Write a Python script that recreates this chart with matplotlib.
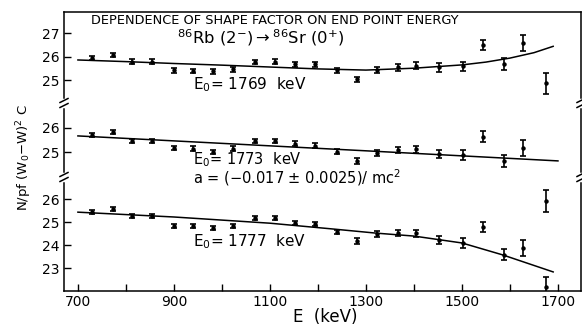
import matplotlib
matplotlib.use('Agg')
import matplotlib.pyplot as plt
from matplotlib.lines import Line2D

# beta energies (keV) of the measured points
energy = [729, 773, 812, 854, 900, 940, 981, 1023, 1069, 1110, 1152, 1194,
          1240, 1281, 1323, 1367, 1404, 1452, 1502, 1544, 1588, 1627, 1675]
err = [0.1, 0.1, 0.1, 0.1, 0.1, 0.1, 0.1, 0.1, 0.1, 0.1, 0.1, 0.1,
       0.1, 0.12, 0.13, 0.14, 0.15, 0.18, 0.2, 0.22, 0.24, 0.33, 0.45]

# shape factor for the three end point energies
sf_1769 = [25.96, 26.08, 25.8, 25.8, 25.43, 25.4, 25.38, 25.47, 25.78, 25.8, 25.69, 25.68,
           25.43, 25.04, 25.43, 25.55, 25.62, 25.55, 25.6, 26.5, 25.7, 26.6, 24.87]
sf_1773 = [25.71, 25.83, 25.46, 25.46, 25.17, 25.13, 25.0, 25.13, 25.46, 25.46, 25.35, 25.26,
           25.01, 24.64, 24.95, 25.08, 25.12, 24.92, 24.88, 25.64, 24.63, 25.18, 22.96]
sf_1777 = [25.43, 25.57, 25.26, 25.26, 24.83, 24.83, 24.74, 24.83, 25.17, 25.17, 24.96, 24.91,
           24.57, 24.17, 24.48, 24.52, 24.52, 24.22, 24.09, 24.78, 23.57, 23.87, 22.17]

# fitted curves
fit_e_1769 = [700, 800, 900, 1000, 1100, 1200, 1300, 1400, 1500, 1550, 1600, 1650, 1690]
fit_1769 = [25.87, 25.8, 25.72, 25.65, 25.57, 25.49, 25.44, 25.52, 25.66, 25.78, 25.95, 26.18, 26.45]
fit_e_1773 = [700, 1000, 1300, 1500, 1700]
fit_1773 = [25.67, 25.36, 25.05, 24.84, 24.63]
fit_e_1777 = [700, 900, 1100, 1230, 1320, 1400, 1500, 1585, 1690]
fit_1777 = [25.43, 25.22, 24.95, 24.7, 24.52, 24.39, 24.09, 23.57, 22.83]

W, H = 582, 327
fig = plt.figure(figsize=(W / 100, H / 100), dpi=100)

left, right = 64, 581


def make_ax(top_px, bot_px):
    return fig.add_axes([left / W, (H - bot_px) / H, (right - left) / W, (bot_px - top_px) / H])


ax1 = make_ax(12, 103)
ax2 = make_ax(103, 177)
ax3 = make_ax(177, 291)

panels = [
    (ax1, sf_1769, fit_e_1769, fit_1769, (24.04, 27.91), [25, 26, 27]),
    (ax2, sf_1773, fit_e_1773, fit_1773, (23.96, 27.04), [25, 26]),
    (ax3, sf_1777, fit_e_1777, fit_1777, (22.0, 26.96), [23, 24, 25, 26]),
]

for ax, vals, fe, fv, ylim, yt in panels:
    ax.plot(fe, fv, color='k', lw=1.1)
    cont = ax.errorbar(energy, vals, yerr=err, fmt='o', ms=2.2, color='k',
                       elinewidth=1.2, capsize=2.3, capthick=1.2)
    if ax is ax2:
        # the last point of the middle curve falls below its break
        for art in cont.get_children():
            art.set_clip_on(False)
    ax.set_xlim(671, 1748)
    ax.set_ylim(*ylim)
    ax.set_yticks(yt)
    ax.set_xticks(range(700, 1701, 100))
    ax.tick_params(direction='in', length=5, width=1, labelsize=10, pad=3)
    ax.patch.set_visible(False)
    for s in ax.spines.values():
        s.set_linewidth(1.1)

ax1.spines['bottom'].set_visible(False)
ax2.spines['bottom'].set_visible(False)
ax2.spines['top'].set_visible(False)
ax3.spines['top'].set_visible(False)
ax1.tick_params(axis='x', bottom=False, labelbottom=False)
ax2.tick_params(axis='x', bottom=False, labelbottom=False)
ax3.set_xticklabels(['700', '', '900', '', '1100', '', '1300', '', '1500', '', '1700'])

# axis breaks
for ypx in (103, 177):
    for xpx in (left, right):
        y = (H - ypx) / H
        fig.add_artist(Line2D([xpx / W, xpx / W], [y - 3 / H, y + 3 / H], color='white', lw=2.5))
        for off in (-2.5, 2.5):
            fig.add_artist(Line2D([(xpx - 4) / W, (xpx + 4) / W],
                                  [y + (off - 2) / H, y + (off + 2) / H], color='k', lw=1.1))

fig.text(91 / W, 1 - 20 / H, 'DEPENDENCE OF SHAPE FACTOR ON END POINT ENERGY',
         fontsize=9.3, va='center', ha='left')
fig.text(177 / W, 1 - 38 / H, r'$^{86}$Rb (2$^{-}$)$\rightarrow$$^{86}$Sr (0$^{+}$)',
         fontsize=11.8, va='center', ha='left')
fig.text(193 / W, 1 - 85 / H, r'E$_0$= 1769  keV', fontsize=11, va='center', ha='left')
fig.text(193 / W, 1 - 160 / H, r'E$_0$= 1773  keV', fontsize=10.5, va='center', ha='left')
fig.text(193 / W, 1 - 178 / H, r'a = ($-$0.017 $\pm$ 0.0025)/ mc$^2$', fontsize=10.5,
         va='center', ha='left')
fig.text(193 / W, 1 - 242 / H, r'E$_0$= 1777  keV', fontsize=11, va='center', ha='left')

fig.text(24 / W, 1 - 158 / H, r'N/pf (W$_0$$-$W)$^2$ C', fontsize=9.5, rotation=90,
         va='center', ha='center')
fig.text(325 / W, 1 - 317 / H, 'E  (keV)', fontsize=12, va='center', ha='center')

fig.savefig('out.png', dpi=100)
